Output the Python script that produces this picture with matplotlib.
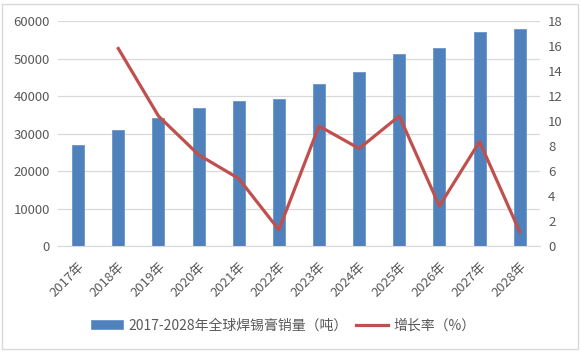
import matplotlib
matplotlib.use('Agg')
import matplotlib.pyplot as plt
from matplotlib.patches import Rectangle

plt.rcParams['font.family'] = ['Noto Sans CJK SC', 'DejaVu Sans']

# Données
years = ['2017年', '2018年', '2019年', '2020年', '2021年', '2022年',
         '2023年', '2024年', '2025年', '2026年', '2027年', '2028年']
sales = [26900, 31000, 34200, 36700, 38700, 39300,
         43100, 46300, 51100, 52700, 57100, 57800]
growth_years = years[1:]
growth = [15.8, 10.4, 7.3, 5.4, 1.3, 9.6, 7.8, 10.4, 3.2, 8.35, 1.15]

bar_label = '2017-2028年全球焊锡膏销量（吨）'
line_label = '增长率（%）'

grey = '#595959'

fig = plt.figure(figsize=(5.81, 3.53), dpi=100)
ax = fig.add_axes([0.1, 0.303, 0.829, 0.6375])
ax2 = ax.twinx()

x = list(range(len(years)))
ax.bar(x, sales, width=0.3, color='#4F81BD', edgecolor='#6A96CB',
       linewidth=0.6, label=bar_label, zorder=2)
gx = [years.index(y) for y in growth_years]
ax2.plot(gx, growth, color='#C0504D', linewidth=2.3, label=line_label)

ax.set_xlim(-0.5, len(years) - 0.5)
ax.set_ylim(0, 60000)
ax.set_yticks(range(0, 60001, 10000))
ax2.set_ylim(0, 18)
ax2.set_yticks(range(0, 19, 2))

ax.grid(axis='y', color='#D9D9D9', linewidth=0.9, zorder=0)
ax.set_axisbelow(True)
for a in (ax, ax2):
    for s in a.spines.values():
        s.set_visible(False)
ax.spines['bottom'].set_visible(True)
ax.spines['bottom'].set_color('#D9D9D9')

ax.set_xticks(x)
ax.set_xticklabels(years, rotation=45, ha='right', va='top',
                   rotation_mode='anchor', color=grey, fontsize=9.5)
ax.tick_params(axis='x', length=0, pad=10)
ax.tick_params(axis='y', length=0, labelsize=9.5, labelcolor=grey, pad=6)
ax2.tick_params(axis='y', length=0, labelsize=9.5, labelcolor=grey, pad=6)

h1, l1 = ax.get_legend_handles_labels()
h2, l2 = ax2.get_legend_handles_labels()
fig.legend(h1 + h2, l1 + l2, loc='center', bbox_to_anchor=(0.487, 0.078),
           ncol=2, frameon=False, fontsize=10, labelcolor=grey,
           handlelength=2.3, columnspacing=0.6, handletextpad=0.4)

# cadre
fig.patches.append(Rectangle((0.004, 0.012), 0.99, 0.978, transform=fig.transFigure,
                             fill=False, edgecolor='#D9D9D9', linewidth=1))

fig.savefig('out.png', dpi=100)
